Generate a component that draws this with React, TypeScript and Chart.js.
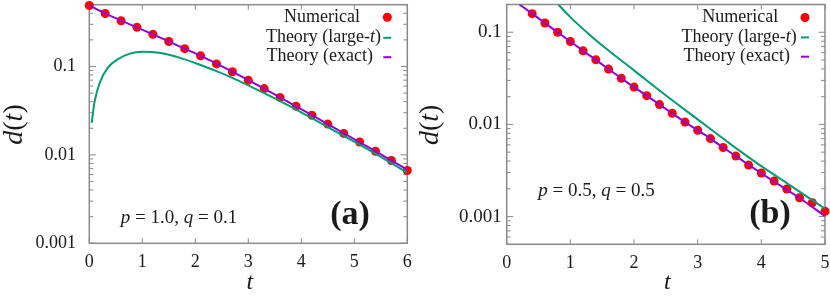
import React, { useEffect, useRef } from "react";
import { Chart, registerables } from "chart.js";
Chart.register(...registerables);

const SERIF = "'Liberation Serif', 'DejaVu Serif', serif";
const RED = "#ff0000";
const GREEN = "#009e73";
const PURPLE = "#9400d3";
const FRAME = "#8a8a8a";
const INK = "#1a1a1a";
const W = 415;
const H = 300;

// ---------- Panel (a): p = 1.0, q = 0.1 ----------
const tNumericalA = [0, 0.3, 0.6, 0.9, 1.2, 1.5, 1.8, 2.1, 2.4, 2.7, 3.0, 3.3, 3.6, 3.9, 4.2, 4.5, 4.8, 5.1, 5.4, 5.7, 6.0];
const dNumericalA = [0.489, 0.397, 0.329, 0.277, 0.231, 0.192, 0.159, 0.132, 0.107, 0.0872, 0.0697, 0.0562, 0.0445, 0.0356, 0.0281, 0.0223, 0.0175, 0.014, 0.011, 0.00863, 0.00667];
const tExactA = [0, 0.3, 0.6, 0.9, 1.2, 1.5, 1.8, 2.1, 2.4, 2.7, 3.0, 3.3, 3.6, 3.9, 4.2, 4.5, 4.8, 5.1, 5.4, 5.7, 6.0];
const dExactA = [0.49, 0.398, 0.33, 0.277, 0.231, 0.192, 0.159, 0.132, 0.108, 0.0875, 0.07, 0.0562, 0.0446, 0.0355, 0.0282, 0.0223, 0.0176, 0.0139, 0.011, 0.00865, 0.0068];
const tLargeA = [0.045, 0.1, 0.2, 0.35, 0.55, 0.75, 1.0, 1.35, 1.7, 2.1, 2.4, 2.7, 3.0, 3.5, 4.0, 4.5, 5.0, 5.5, 6.0];
const dLargeA = [0.023, 0.04, 0.066, 0.097, 0.122, 0.139, 0.147, 0.142, 0.126, 0.104, 0.0885, 0.0745, 0.0612, 0.0435, 0.0302, 0.0206, 0.0141, 0.0095, 0.0063];
const xTicksA = [0, 1, 2, 3, 4, 5, 6];
const yTicksA = [0.001, 0.01, 0.1];

// ---------- Panel (b): p = 0.5, q = 0.5 ----------
const tNumericalB = [0.4, 0.6, 0.8, 1.0, 1.2, 1.4, 1.6, 1.8, 2.0, 2.2, 2.4, 2.6, 2.8, 3.0, 3.2, 3.4, 3.6, 3.8, 4.0, 4.2, 4.4, 4.6, 4.8, 5.0];
const dNumericalB = [0.159, 0.126, 0.1, 0.0793, 0.0628, 0.0502, 0.0398, 0.0316, 0.0254, 0.0205, 0.0164, 0.0132, 0.0106, 0.00865, 0.00702, 0.00561, 0.00453, 0.00362, 0.00297, 0.00243, 0.00199, 0.0016, 0.00141, 0.00114];
const tExactB = [0.2, 0.4, 0.6, 0.8, 1.0, 1.2, 1.4, 1.6, 1.8, 2.0, 2.2, 2.4, 2.6, 2.8, 3.0, 3.2, 3.4, 3.6, 3.8, 4.0, 4.2, 4.4, 4.6, 4.8, 5.0];
const dExactB = [0.2, 0.159, 0.126, 0.1, 0.0793, 0.0628, 0.0502, 0.0398, 0.0316, 0.0254, 0.0205, 0.0164, 0.0132, 0.0106, 0.00865, 0.00702, 0.00561, 0.00453, 0.00365, 0.00295, 0.0024, 0.00195, 0.00159, 0.00127, 0.00101];
const tLargeB = [0.81, 1.0, 1.31, 1.6, 2.0, 2.41, 3.0, 3.5, 4.0, 4.4, 5.0];
const dLargeB = [0.2, 0.146, 0.0929, 0.0633, 0.0386, 0.023, 0.01133, 0.00623, 0.00352, 0.00231, 0.00122];
const xTicksB = [0, 1, 2, 3, 4, 5];
const yTicksB = [0.001, 0.01, 0.1];

type Seg = [string, boolean];
const legendNumerical: Seg[] = [["Numerical", false]];
const legendLarge: Seg[] = [["Theory (large-", false], ["t", true], [")", false]];
const legendExact: Seg[] = [["Theory (exact)", false]];
const yTitle: Seg[] = [["d", true], ["(", false], ["t", true], [")", false]];
const xTitle: Seg[] = [["t", true]];
const noteA: Seg[] = [["p", true], [" = 1.0, ", false], ["q", true], [" = 0.1", false]];
const noteB: Seg[] = [["p", true], [" = 0.5, ", false], ["q", true], [" = 0.5", false]];

type Panel = {
  tNum: number[]; dNum: number[]; tEx: number[]; dEx: number[]; tLg: number[]; dLg: number[];
  xMax: number; yMin: number; yMax: number; xTicks: number[]; yTicks: number[];
  area: { left: number; right: number; top: number; bottom: number };
  yPad: number; yFont: number;
  note: Seg[]; noteFx: number; noteFy: number;
  tag: string; tagFx: number; tagFy: number;
  legendRight: number[]; legendRowY: number[];
  yTitleX: number;
};

const panelA: Panel = {
  tNum: tNumericalA, dNum: dNumericalA, tEx: tExactA, dEx: dExactA, tLg: tLargeA, dLg: dLargeA,
  xMax: 6, yMin: 0.001, yMax: 0.5, xTicks: xTicksA, yTicks: yTicksA,
  area: { left: 89.3, right: 407.3, top: 4.7, bottom: 243.3 },
  yPad: 13.3, yFont: 18,
  note: noteA, noteFx: 0.099, noteFy: 0.895,
  tag: "(a)", tagFx: 0.82, tagFy: 0.881,
  legendRight: [47.3, 26.3, 34.3], legendRowY: [12.6, 32.6, 52],
  yTitleX: 15,
};

const panelB: Panel = {
  tNum: tNumericalB, dNum: dNumericalB, tEx: tExactB, dEx: dExactB, tLg: tLargeB, dLg: dLargeB,
  xMax: 5, yMin: 0.0005, yMax: 0.2, xTicks: xTicksB, yTicks: yTicksB,
  area: { left: 91.7, right: 410, top: 4.3, bottom: 244.3 },
  yPad: 5, yFont: 19,
  note: noteB, noteFx: 0.099, noteFy: 0.777,
  tag: "(b)", tagFx: 0.827, tagFy: 0.874,
  legendRight: [46.7, 28.3, 35], legendRowY: [13, 32.4, 51.7],
  yTitleX: 16,
};

function drawSegs(ctx: CanvasRenderingContext2D, segs: Seg[], x: number, y: number, align: string, size: number, weight = "normal") {
  const fontOf = (it: boolean) => `${it ? "italic " : ""}${weight} ${size}px ${SERIF}`;
  let total = 0;
  const widths = segs.map(([s, it]) => {
    ctx.font = fontOf(it);
    const w = ctx.measureText(s).width;
    total += w;
    return w;
  });
  let cx = align === "left" ? x : align === "right" ? x - total : x - total / 2;
  ctx.textAlign = "left";
  ctx.textBaseline = "middle";
  segs.forEach(([s, it], i) => {
    ctx.font = fontOf(it);
    ctx.fillText(s, cx, y);
    cx += widths[i];
  });
}

function framePlugin(p: Panel) {
  return {
    id: "frame",
    beforeDatasetsDraw(chart: any) {
      const { ctx, chartArea: a, scales } = chart;
      const xs = scales.x;
      const ys = scales.y;
      ctx.save();
      ctx.strokeStyle = FRAME;
      ctx.lineWidth = 1;
      ctx.beginPath();
      for (const v of p.xTicks) {
        const px = xs.getPixelForValue(v);
        ctx.moveTo(px, a.bottom);
        ctx.lineTo(px, a.bottom - 5);
        ctx.moveTo(px, a.top);
        ctx.lineTo(px, a.top + 5);
      }
      const e0 = Math.floor(Math.log10(p.yMin));
      const e1 = Math.ceil(Math.log10(p.yMax));
      for (let e = e0; e <= e1; e++) {
        for (let m = 1; m <= 9; m++) {
          const v = m * Math.pow(10, e);
          if (v < p.yMin * 0.999 || v > p.yMax * 1.001) continue;
          const py = ys.getPixelForValue(v);
          const len = m === 1 ? 6.5 : 4;
          ctx.moveTo(a.left, py);
          ctx.lineTo(a.left + len, py);
          ctx.moveTo(a.right, py);
          ctx.lineTo(a.right - len, py);
        }
      }
      ctx.stroke();
      ctx.lineWidth = 1.5;
      ctx.strokeRect(a.left, a.top, a.right - a.left, a.bottom - a.top);
      ctx.restore();
    },
    afterDraw(chart: any) {
      const { ctx, chartArea: a } = chart;
      const w = a.right - a.left;
      const h = a.bottom - a.top;
      ctx.save();
      ctx.fillStyle = INK;
      const ds = chart.data.datasets;
      const segsList = [legendNumerical, legendLarge, legendExact];
      for (let i = 0; i < 3; i++) {
        const ry = a.top + p.legendRowY[i];
        ctx.fillStyle = INK;
        drawSegs(ctx, segsList[i], a.right - p.legendRight[i], ry, "right", 18);
        const mx = a.right - 20;
        if (i === 0) {
          ctx.fillStyle = ds[0].pointBackgroundColor;
          ctx.beginPath();
          ctx.arc(mx, ry, 4.5, 0, Math.PI * 2);
          ctx.fill();
        } else {
          ctx.strokeStyle = ds[i].borderColor;
          ctx.lineWidth = 2;
          ctx.beginPath();
          ctx.moveTo(mx - 4, ry + 0.5);
          ctx.lineTo(mx + 4, ry + 0.5);
          ctx.stroke();
        }
      }
      ctx.fillStyle = INK;
      drawSegs(ctx, p.note, a.left + p.noteFx * w, a.top + p.noteFy * h, "left", 19);
      drawSegs(ctx, [[p.tag, false]], a.left + p.tagFx * w, a.top + p.tagFy * h, "center", 34, "bold");
      drawSegs(ctx, xTitle, (a.left + a.right) / 2 + 1.5, 283, "center", 24);
      ctx.translate(p.yTitleX, (a.top + a.bottom) / 2 + 0.5);
      ctx.rotate(-Math.PI / 2);
      drawSegs(ctx, yTitle, 0, 0, "center", 28);
      ctx.restore();
    },
  };
}

function buildConfig(p: Panel): any {
  const pts = (ts: number[], ds: number[]) => ts.map((t, i) => ({ x: t, y: ds[i] }));
  return {
    type: "scatter",
    data: {
      datasets: [
        {
          label: "Numerical",
          data: pts(p.tNum, p.dNum),
          showLine: false,
          pointRadius: 4.5,
          pointBackgroundColor: RED,
          pointBorderWidth: 0,
          pointBorderColor: RED,
          order: 3,
          clip: false,
        },
        {
          type: "line",
          label: "Theory (large-t)",
          data: pts(p.tLg, p.dLg),
          showLine: true,
          borderColor: GREEN,
          borderWidth: 2,
          pointRadius: 0,
          cubicInterpolationMode: "monotone",
          fill: false,
          order: 2,
        },
        {
          type: "line",
          label: "Theory (exact)",
          data: pts(p.tEx, p.dEx),
          showLine: true,
          borderColor: PURPLE,
          borderWidth: 2,
          pointRadius: 0,
          cubicInterpolationMode: "monotone",
          fill: false,
          order: 1,
        },
      ],
    },
    options: {
      responsive: false,
      animation: false,
      devicePixelRatio: 1,
      events: [],
      layout: { padding: { left: 0, top: p.area.top, right: W - p.area.right, bottom: 0 } },
      plugins: { legend: { display: false }, tooltip: { enabled: false }, title: { display: false } },
      scales: {
        x: {
          type: "linear",
          bounds: "data",
          min: 0,
          max: p.xMax,
          afterFit: (s: any) => {
            s.height = H - p.area.bottom;
            s.paddingLeft = 0;
            s.paddingRight = 0;
            s.paddingTop = 0;
            s.paddingBottom = 0;
          },
          afterBuildTicks: (s: any) => { s.ticks = p.xTicks.map((v) => ({ value: v })); },
          grid: { display: false, drawTicks: false },
          border: { display: false },
          ticks: {
            autoSkip: false,
            maxRotation: 0,
            padding: 8,
            color: INK,
            font: { family: SERIF, size: 18 },
            callback: (v: any) => String(v),
          },
        },
        y: {
          type: "logarithmic",
          bounds: "data",
          min: p.yMin,
          max: p.yMax,
          afterFit: (s: any) => {
            s.width = p.area.left;
            s.paddingTop = 0;
            s.paddingBottom = 0;
            s.paddingLeft = 0;
            s.paddingRight = 0;
          },
          afterBuildTicks: (s: any) => { s.ticks = p.yTicks.map((v) => ({ value: v })); },
          grid: { display: false, drawTicks: false },
          border: { display: false },
          ticks: {
            autoSkip: false,
            padding: p.yPad,
            color: INK,
            font: { family: SERIF, size: p.yFont },
            callback: (v: any) => String(v),
          },
        },
      },
    },
    plugins: [framePlugin(p)],
  };
}

function PanelChart({ panel }: { panel: Panel }) {
  const ref = useRef<HTMLCanvasElement | null>(null);
  useEffect(() => {
    if (!ref.current) return;
    const chart = new Chart(ref.current, buildConfig(panel));
    return () => chart.destroy();
  }, [panel]);
  return <canvas ref={ref} width={W} height={H} style={{ width: W, height: H, display: "block" }} />;
}

export default function App() {
  useEffect(() => {
    document.body.style.margin = "0";
    document.body.style.background = "#ffffff";
  }, []);
  return (
    <div style={{ position: "absolute", left: 0, top: 0, width: 830, height: 300, display: "flex", background: "#fff" }}>
      <PanelChart panel={panelA} />
      <PanelChart panel={panelB} />
    </div>
  );
}
